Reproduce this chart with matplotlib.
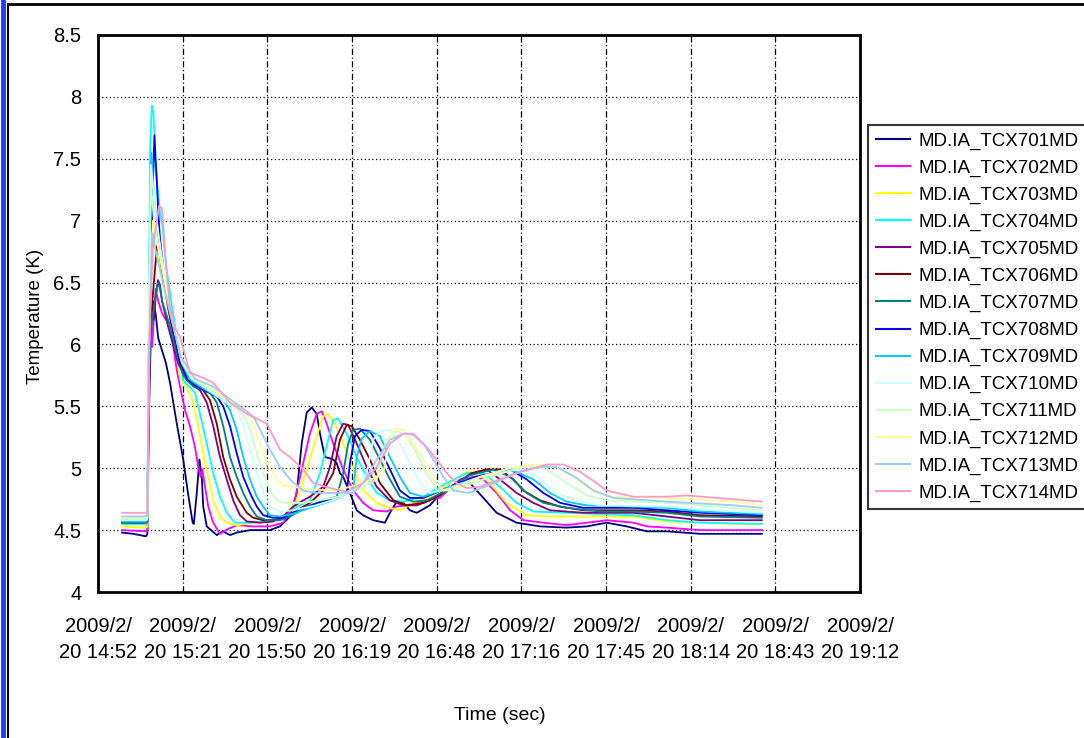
import matplotlib
matplotlib.use("Agg")
import matplotlib.pyplot as plt
from matplotlib.lines import Line2D

# ---------------- data (time in minutes after 2009/2/20 14:52:48, temperature in K)
tick_labels = ["2009/2/\n20 14:52", "2009/2/\n20 15:21", "2009/2/\n20 15:50",
               "2009/2/\n20 16:19", "2009/2/\n20 16:48", "2009/2/\n20 17:16",
               "2009/2/\n20 17:45", "2009/2/\n20 18:14", "2009/2/\n20 18:43",
               "2009/2/\n20 19:12"]
tick_step_min = 28.8
y_ticks = [4, 4.5, 5, 5.5, 6, 6.5, 7, 7.5, 8, 8.5]

series_names = ["MD.IA_TCX701MD", "MD.IA_TCX702MD", "MD.IA_TCX703MD", "MD.IA_TCX704MD",
                "MD.IA_TCX705MD", "MD.IA_TCX706MD", "MD.IA_TCX707MD", "MD.IA_TCX708MD",
                "MD.IA_TCX709MD", "MD.IA_TCX710MD", "MD.IA_TCX711MD", "MD.IA_TCX712MD",
                "MD.IA_TCX713MD", "MD.IA_TCX714MD"]
series_colors = ["#000080", "#FF00FF", "#FFFF00", "#00FFFF", "#800080", "#800000",
                 "#008080", "#0000FF", "#00CCFF", "#CCFFFF", "#CCFFCC", "#FFFF99",
                 "#99CCFF", "#FF99CC"]

TCX701 = [(8.2, 4.48), (12.0, 4.47), (16.3, 4.45), (16.8, 4.47), (17.3, 5.40), (18.0, 6.10),
          (18.7, 6.35), (19.6, 6.25), (20.5, 6.05), (21.8, 5.95), (23.1, 5.85), (24.5, 5.69),
          (26.8, 5.36), (29.0, 5.07), (30.6, 4.80), (32.2, 4.56), (32.6, 4.55), (33.6, 4.80),
          (34.5, 5.07), (35.3, 4.93), (35.8, 4.69), (37.0, 4.53), (40.4, 4.46), (42.5, 4.49),
          (44.9, 4.46), (47.2, 4.48), (51.7, 4.50), (58.5, 4.50), (61.9, 4.53), (65.3, 4.61),
          (67.6, 4.80), (69.3, 5.20), (71.0, 5.45), (72.7, 5.49), (74.4, 5.44), (75.5, 5.28),
          (77.2, 5.09), (78.9, 5.08), (80.0, 5.07), (81.2, 5.04), (82.3, 4.96), (83.4, 4.93),
          (85.7, 4.80), (88.0, 4.66), (90.2, 4.62), (93.6, 4.58), (97.6, 4.56), (99.3, 4.64),
          (101.6, 4.73), (103.9, 4.72), (106.1, 4.66), (108.4, 4.64), (112.9, 4.70),
          (117.5, 4.82), (120.9, 4.86), (123.1, 4.89), (126.5, 4.88), (131.1, 4.76),
          (135.6, 4.64), (142.4, 4.56), (150.4, 4.53), (159.4, 4.52), (166.3, 4.53),
          (173.0, 4.56), (179.9, 4.53), (186.7, 4.49), (193.5, 4.49), (204.8, 4.47),
          (216.2, 4.47), (225.8, 4.47)]
TCX702 = [(8.2, 4.50), (16.3, 4.49), (16.8, 4.50), (17.3, 5.60), (17.9, 6.30), (18.4, 5.98),
          (19.0, 6.20), (19.6, 6.45), (20.5, 6.35), (21.8, 6.25), (23.1, 6.20), (24.5, 6.17),
          (25.5, 6.00), (26.8, 5.79), (27.9, 5.66), (29.6, 5.47), (31.3, 5.34), (33.0, 5.17),
          (34.1, 5.01), (34.9, 4.93), (35.5, 4.99), (36.4, 4.85), (37.5, 4.69), (39.2, 4.56),
          (41.5, 4.47), (44.3, 4.51), (47.2, 4.54), (52.8, 4.53), (58.5, 4.53), (63.0, 4.56),
          (66.4, 4.69), (69.3, 4.99), (72.1, 5.28), (74.4, 5.44), (76.1, 5.46), (77.8, 5.36),
          (80.0, 5.20), (83.4, 4.99), (86.8, 4.82), (90.2, 4.72), (93.6, 4.66), (98.2, 4.65),
          (101.6, 4.69), (105.0, 4.70), (110.7, 4.74), (116.3, 4.76), (123.1, 4.91),
          (127.7, 4.93), (131.1, 4.91), (135.6, 4.80), (140.2, 4.66), (144.7, 4.58),
          (151.5, 4.56), (159.4, 4.54), (166.3, 4.56), (173.0, 4.58), (182.1, 4.56),
          (186.7, 4.53), (193.5, 4.52), (204.8, 4.50), (216.2, 4.50), (225.8, 4.50)]
TCX703 = [(8.2, 4.53), (16.3, 4.52), (16.8, 4.53), (17.3, 5.80), (18.0, 6.50), (18.7, 6.90),
          (19.6, 6.75), (20.5, 6.70), (21.8, 6.55), (23.1, 6.40), (24.5, 6.20), (26.2, 6.00),
          (27.9, 5.74), (30.7, 5.63), (32.4, 5.53), (34.1, 5.34), (35.8, 5.12), (37.5, 4.93),
          (39.2, 4.74), (41.5, 4.61), (43.8, 4.56), (47.2, 4.54), (52.8, 4.56), (58.5, 4.57),
          (63.0, 4.61), (67.6, 4.74), (71.0, 4.99), (74.4, 5.26), (76.6, 5.42), (77.8, 5.44),
          (80.0, 5.39), (83.4, 5.20), (86.8, 4.99), (90.2, 4.82), (94.8, 4.72), (99.3, 4.68),
          (102.7, 4.66), (107.3, 4.72), (112.9, 4.77), (118.6, 4.86), (125.4, 4.97),
          (129.9, 4.96), (133.3, 4.88), (139.0, 4.72), (145.8, 4.62), (153.8, 4.61),
          (170.8, 4.61), (182.1, 4.61), (193.5, 4.57), (204.8, 4.56), (216.2, 4.55),
          (225.8, 4.55)]
TCX704 = [(8.2, 4.55), (16.3, 4.55), (16.8, 4.56), (17.3, 6.00), (17.7, 7.57), (18.3, 7.93),
          (18.8, 7.88), (19.2, 7.71), (19.7, 7.38), (20.5, 7.22), (21.1, 7.06), (22.0, 6.95),
          (23.1, 6.65), (25.2, 6.30), (27.9, 5.90), (29.0, 5.71), (33.0, 5.61), (34.7, 5.44),
          (37.0, 5.20), (39.2, 4.96), (41.5, 4.77), (43.8, 4.64), (46.6, 4.56), (52.8, 4.56),
          (58.5, 4.58), (63.0, 4.61), (65.3, 4.66), (72.1, 4.74), (75.5, 4.96), (78.3, 5.23),
          (80.0, 5.39), (81.7, 5.40), (84.6, 5.28), (88.0, 5.09), (91.4, 4.93), (94.8, 4.80),
          (99.3, 4.74), (103.9, 4.73), (110.7, 4.77), (118.6, 4.88), (125.4, 4.96),
          (131.1, 4.96), (136.7, 4.85), (142.4, 4.72), (148.1, 4.65), (159.4, 4.64),
          (182.1, 4.62), (193.5, 4.58), (204.8, 4.56), (225.8, 4.55)]
TCX705 = [(8.2, 4.56), (16.3, 4.56), (16.8, 4.57), (17.3, 5.90), (18.0, 6.30), (19.0, 6.20),
          (19.7, 6.40), (20.4, 6.52), (21.1, 6.48), (21.8, 6.35), (23.8, 6.15), (25.5, 6.00),
          (27.2, 5.85), (30.2, 5.71), (34.7, 5.63), (37.0, 5.53), (39.2, 5.34), (41.5, 5.09),
          (43.8, 4.91), (46.0, 4.74), (48.3, 4.62), (50.6, 4.57), (55.1, 4.56), (59.6, 4.57),
          (63.0, 4.61), (66.4, 4.69), (69.8, 4.74), (72.1, 4.77), (76.6, 4.85), (78.9, 5.01),
          (81.2, 5.26), (83.4, 5.36), (85.1, 5.35), (88.0, 5.20), (91.4, 5.01), (94.8, 4.85),
          (99.3, 4.74), (103.9, 4.70), (108.4, 4.70), (112.9, 4.74), (120.0, 4.85),
          (126.5, 4.95), (132.2, 4.99), (136.7, 4.91), (142.4, 4.80), (148.1, 4.72),
          (153.8, 4.66), (165.1, 4.64), (182.1, 4.64), (193.5, 4.61), (204.8, 4.58),
          (225.8, 4.58)]
TCX706 = [(8.2, 4.57), (16.3, 4.57), (16.8, 4.58), (17.3, 5.90), (18.0, 6.20), (19.0, 6.50),
          (20.1, 6.80), (20.8, 6.75), (21.8, 6.60), (23.8, 6.30), (25.5, 6.10), (27.2, 5.95),
          (31.3, 5.69), (35.8, 5.63), (38.1, 5.55), (40.4, 5.36), (42.6, 5.09), (44.9, 4.91),
          (47.2, 4.77), (50.6, 4.64), (52.8, 4.60), (56.2, 4.58), (60.8, 4.58), (63.0, 4.60),
          (67.6, 4.66), (72.1, 4.72), (76.6, 4.82), (80.0, 4.96), (82.3, 5.23), (84.6, 5.35),
          (86.3, 5.34), (89.1, 5.23), (92.5, 5.07), (95.9, 4.88), (100.5, 4.74), (105.0, 4.70),
          (110.7, 4.72), (116.3, 4.78), (122.0, 4.88), (127.0, 4.96), (132.2, 4.99),
          (136.7, 4.99), (141.3, 4.91), (144.7, 4.82), (150.4, 4.74), (157.2, 4.69),
          (165.1, 4.66), (182.1, 4.66), (193.5, 4.65), (204.8, 4.62), (225.8, 4.61)]
TCX707 = [(8.2, 4.56), (16.3, 4.56), (16.8, 4.57), (17.3, 5.70), (18.0, 6.10), (19.0, 6.30),
          (20.4, 6.50), (21.1, 6.45), (21.8, 6.35), (23.8, 6.20), (27.2, 5.90), (29.0, 5.75),
          (32.4, 5.66), (38.1, 5.61), (40.4, 5.53), (42.6, 5.34), (44.9, 5.09), (47.2, 4.93),
          (49.4, 4.80), (51.7, 4.69), (54.0, 4.61), (57.4, 4.58), (61.9, 4.58), (65.3, 4.61),
          (72.1, 4.70), (76.6, 4.74), (81.2, 4.77), (83.4, 4.96), (85.1, 5.20), (86.8, 5.31),
          (89.1, 5.32), (92.5, 5.23), (95.9, 5.07), (99.3, 4.91), (102.7, 4.77), (107.3, 4.73),
          (111.8, 4.74), (118.6, 4.82), (126.0, 4.94), (134.5, 4.99), (140.2, 4.93),
          (145.8, 4.80), (151.5, 4.72), (159.4, 4.68), (170.8, 4.65), (182.1, 4.65),
          (193.5, 4.64), (204.8, 4.61), (225.8, 4.60)]
TCX708 = [(8.2, 4.58), (16.3, 4.58), (16.8, 4.59), (17.3, 5.80), (18.0, 6.60), (18.7, 7.33),
          (19.2, 7.69), (19.6, 7.49), (20.0, 7.33), (20.5, 7.06), (21.1, 6.85), (22.8, 6.50),
          (24.8, 6.20), (27.9, 5.85), (30.5, 5.72), (33.6, 5.66), (40.4, 5.58), (42.6, 5.50),
          (44.9, 5.34), (47.2, 5.12), (49.4, 4.93), (51.7, 4.80), (54.0, 4.69), (56.2, 4.62),
          (59.6, 4.60), (63.0, 4.60), (70.0, 4.68), (76.6, 4.73), (82.3, 4.76), (84.6, 4.80),
          (85.7, 5.04), (87.4, 5.26), (89.7, 5.31), (92.5, 5.30), (95.9, 5.16), (99.3, 4.99),
          (102.7, 4.82), (106.1, 4.76), (110.7, 4.76), (118.6, 4.84), (128.0, 4.93),
          (136.7, 4.97), (140.2, 4.99), (145.8, 4.91), (151.5, 4.80), (157.2, 4.72),
          (165.1, 4.68), (182.1, 4.68), (193.5, 4.66), (204.8, 4.64), (225.8, 4.62)]
TCX709 = [(8.2, 4.57), (16.3, 4.57), (16.8, 4.58), (17.3, 6.20), (17.8, 7.20), (18.2, 7.55),
          (19.0, 7.20), (20.4, 6.90), (22.1, 6.60), (24.5, 6.30), (27.9, 5.90), (31.0, 5.72),
          (34.7, 5.66), (42.6, 5.55), (44.9, 5.47), (47.2, 5.31), (49.4, 5.09), (51.7, 4.91),
          (54.0, 4.77), (56.2, 4.69), (58.5, 4.62), (61.9, 4.61), (66.0, 4.63), (72.1, 4.68),
          (80.0, 4.74), (86.8, 4.82), (88.0, 5.09), (89.7, 5.24), (92.5, 5.30), (95.9, 5.26),
          (99.3, 5.09), (102.7, 4.93), (106.1, 4.80), (110.7, 4.77), (118.6, 4.84),
          (130.0, 4.93), (139.0, 4.99), (142.4, 4.97), (148.1, 4.91), (153.8, 4.80),
          (159.4, 4.73), (166.3, 4.70), (182.1, 4.69), (193.5, 4.68), (204.8, 4.65),
          (225.8, 4.63)]
TCX710 = [(8.2, 4.58), (16.3, 4.58), (16.8, 4.59), (17.3, 6.30), (18.0, 7.45), (19.4, 7.10),
          (21.1, 6.80), (23.1, 6.50), (25.2, 6.20), (28.6, 5.85), (32.0, 5.72), (35.8, 5.66),
          (47.2, 5.47), (49.4, 5.34), (51.7, 5.15), (54.0, 4.96), (56.2, 4.80), (58.5, 4.69),
          (61.9, 4.65), (66.4, 4.66), (74.0, 4.70), (82.3, 4.76), (88.0, 4.85), (91.4, 4.96),
          (93.6, 5.23), (95.9, 5.30), (99.3, 5.31), (102.7, 5.20), (106.1, 5.04), (109.5, 4.88),
          (112.9, 4.80), (118.6, 4.83), (130.0, 4.93), (142.4, 4.99), (145.8, 4.99),
          (150.4, 4.91), (156.0, 4.80), (164.0, 4.73), (170.8, 4.70), (193.5, 4.69),
          (210.0, 4.66), (225.8, 4.64)]
TCX711 = [(8.2, 4.59), (16.3, 4.59), (16.8, 4.60), (17.3, 6.20), (18.0, 7.30), (19.4, 6.90),
          (21.1, 6.70), (23.1, 6.45), (25.2, 6.20), (28.6, 5.85), (32.5, 5.72), (37.0, 5.66),
          (49.4, 5.44), (51.7, 5.31), (54.0, 5.12), (56.2, 4.96), (58.5, 4.82), (60.8, 4.74),
          (63.0, 4.72), (70.0, 4.72), (80.0, 4.76), (88.0, 4.82), (94.8, 4.91), (96.5, 5.09),
          (98.2, 5.23), (101.6, 5.30), (105.0, 5.26), (108.4, 5.12), (111.8, 4.96),
          (115.2, 4.82), (120.0, 4.82), (130.0, 4.90), (140.0, 4.98), (145.8, 5.02),
          (152.6, 4.99), (159.4, 4.88), (166.3, 4.78), (173.0, 4.74), (193.5, 4.72),
          (210.0, 4.69), (225.8, 4.66)]
TCX712 = [(8.2, 4.60), (16.3, 4.60), (16.8, 4.61), (17.3, 6.00), (18.0, 6.70), (18.7, 7.00),
          (20.4, 6.80), (22.1, 6.60), (24.5, 6.30), (28.2, 5.90), (32.5, 5.72), (38.1, 5.66),
          (51.7, 5.42), (54.0, 5.28), (56.2, 5.12), (58.5, 4.99), (60.8, 4.91), (63.0, 4.86),
          (66.4, 4.85), (72.0, 4.83), (80.0, 4.82), (88.0, 4.86), (94.0, 4.92), (97.0, 4.96),
          (99.3, 5.23), (101.0, 5.32), (103.9, 5.31), (107.3, 5.20), (110.7, 5.07),
          (114.1, 4.91), (117.5, 4.82), (122.0, 4.84), (130.0, 4.93), (140.0, 5.00),
          (148.1, 5.03), (154.9, 5.02), (161.7, 4.93), (168.5, 4.81), (175.3, 4.77),
          (193.5, 4.76), (216.2, 4.73), (225.8, 4.70)]
TCX713 = [(8.2, 4.61), (16.3, 4.61), (16.8, 4.62), (17.3, 5.90), (18.4, 6.90), (20.1, 6.70),
          (22.1, 6.50), (24.5, 6.25), (28.2, 5.90), (33.0, 5.72), (39.2, 5.66), (52.8, 5.42),
          (56.2, 5.26), (58.5, 5.15), (61.9, 5.01), (65.3, 4.91), (69.8, 4.82), (74.4, 4.80),
          (80.0, 4.80), (86.8, 4.80), (90.2, 4.88), (94.8, 5.07), (99.3, 5.23), (103.9, 5.28),
          (107.3, 5.28), (110.7, 5.20), (114.1, 5.07), (117.5, 4.93), (120.9, 4.82),
          (126.0, 4.80), (135.0, 4.88), (143.0, 4.97), (150.4, 5.01), (156.0, 5.01),
          (162.9, 4.92), (168.5, 4.82), (175.3, 4.76), (193.5, 4.73), (216.2, 4.70),
          (225.8, 4.68)]
TCX714 = [(8.2, 4.64), (16.3, 4.64), (16.8, 4.65), (17.3, 5.80), (18.0, 6.40), (18.7, 6.80),
          (19.7, 6.95), (20.8, 7.12), (21.7, 7.10), (22.2, 6.98), (22.8, 6.74), (23.6, 6.52),
          (24.5, 6.31), (26.2, 6.13), (27.9, 6.06), (31.3, 5.77), (35.8, 5.73), (39.2, 5.69),
          (44.9, 5.53), (50.6, 5.44), (57.4, 5.36), (61.9, 5.15), (65.3, 5.09), (69.8, 4.99),
          (73.2, 4.88), (78.9, 4.84), (84.6, 4.81), (90.2, 4.88), (94.8, 5.01), (99.3, 5.20),
          (103.9, 5.28), (107.3, 5.27), (111.8, 5.17), (115.2, 5.07), (118.6, 4.96),
          (122.0, 4.88), (125.4, 4.84), (129.9, 4.85), (136.7, 4.91), (142.4, 4.96),
          (148.1, 5.00), (152.6, 5.03), (158.3, 5.03), (164.0, 4.97), (169.6, 4.88),
          (173.0, 4.82), (182.1, 4.77), (193.5, 4.77), (200.3, 4.78), (210.5, 4.76),
          (225.8, 4.73)]

all_series = [TCX701, TCX702, TCX703, TCX704, TCX705, TCX706, TCX707,
              TCX708, TCX709, TCX710, TCX711, TCX712, TCX713, TCX714]

# ---------------- figure
plt.rcParams['font.family'] = ['Liberation Sans', 'DejaVu Sans']
W, H = 1084, 738
fig = plt.figure(figsize=(W / 100, H / 100), dpi=100)
fig.patch.set_facecolor("white")

ax = fig.add_axes([98 / W, 1 - 592 / H, (860 - 98) / W, (592 - 35) / H])
for name, data, col in zip(series_names, all_series, series_colors):
    t = [p[0] for p in data]
    k = [p[1] for p in data]
    ax.plot(t, k, color=col, lw=1.3, label=name, solid_joinstyle="round")

xt = [i * tick_step_min for i in range(len(tick_labels))]
ax.set_xlim(xt[0], xt[-1])
ax.set_ylim(y_ticks[0], y_ticks[-1])
ax.set_xticks(xt)
ax.set_xticklabels(tick_labels, fontsize=14.5, linespacing=1.5)
ax.set_yticks(y_ticks)
ax.set_yticklabels([f"{v:g}" for v in y_ticks], fontsize=14.5)
ax.tick_params(axis="both", length=0)
ax.tick_params(axis="x", pad=18)
ax.tick_params(axis="y", pad=12)

for v in y_ticks[1:-1]:
    ax.axhline(v, color="black", lw=0.9, linestyle=(0, (1, 2)), zorder=0)
for v in xt[1:-1]:
    ax.axvline(v, color="black", lw=0.9, linestyle=(0, (5, 2, 1, 2)), zorder=0)

for s in ax.spines.values():
    s.set_linewidth(2.0)
    s.set_color("black")

fig.text(36 / W, 1 - 316 / H, "Temperature (K)", rotation=90, ha="center",
         va="center", fontsize=13.5)
fig.text(500 / W, 1 - 715 / H, "Time (sec)", ha="center", va="center", fontsize=14)

leg = ax.legend(loc="upper left", bbox_to_anchor=(868 / W, 1 - 125 / H),
                bbox_transform=fig.transFigure, fontsize=13.5, frameon=True,
                fancybox=False, shadow=False, borderaxespad=0, borderpad=0.4,
                handlelength=1.85, handletextpad=0.45, labelspacing=0.52)
leg.get_frame().set_edgecolor("black")
leg.get_frame().set_linewidth(1.5)
for h in leg.get_lines():
    h.set_linewidth(1.5)

# window / chart-area borders
fig.add_artist(Line2D([3 / W, 3 / W], [0, 1], transform=fig.transFigure,
                      color="#1f3fff", lw=3.5))
fig.add_artist(Line2D([8 / W, 8 / W], [0, 1 - 4 / H], transform=fig.transFigure,
                      color="black", lw=1.5))
fig.add_artist(Line2D([8 / W, 1], [1 - 4 / H, 1 - 4 / H], transform=fig.transFigure,
                      color="black", lw=2))

fig.savefig("out.png", dpi=100)
